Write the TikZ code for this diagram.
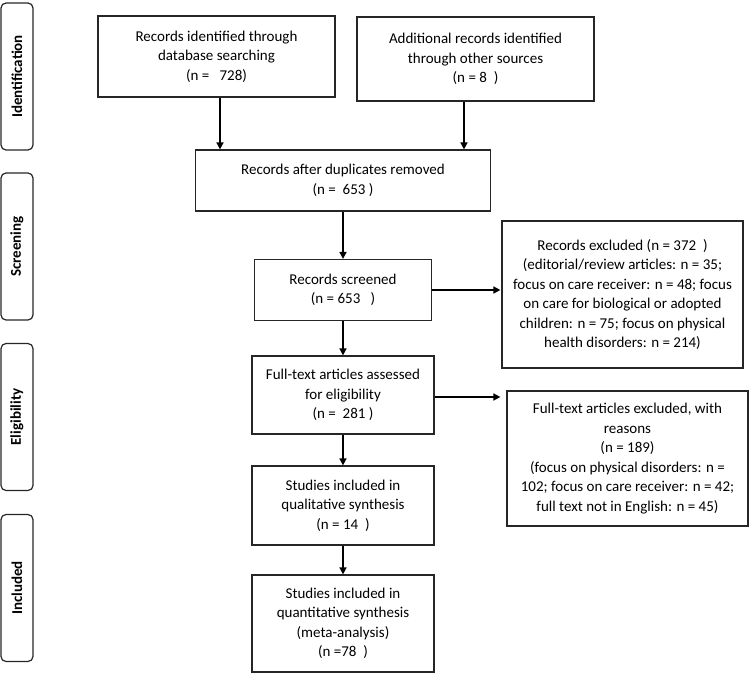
\documentclass[tikz,border=0pt]{standalone}
\usepackage{fontspec}
\setmainfont{Carlito}
\usetikzlibrary{arrows.meta}
\begin{document}
\begin{tikzpicture}[x=1pt,y=-1pt,
  box/.style={draw=black!85,line width=1.2pt,inner sep=0pt,align=center,
    font=\fontsize{15}{19.5}\selectfont},
  side/.style={draw=black!85,line width=1.2pt,rounded corners=5pt,inner sep=0pt,
    minimum width=32pt,minimum height=147pt},
  sidetext/.style={rotate=90,font=\fontsize{15}{18}\selectfont\bfseries},
  arr/.style={line width=1.6pt,-{Triangle[length=7pt,width=7pt]}}]
\useasboundingbox (0,0) rectangle (750,674);
% phase labels
\node[side] (s1) at (17,76.5) {};
\node[sidetext] (t1) at (s1) {Identification};
\node[side] (s2) at (17,246.5) {};
\node[sidetext] (t2) at (s2) {Screening};
\node[side] (s3) at (17,417) {};
\node[sidetext] (t3) at (s3) {Eligibility};
\node[side] (s4) at (17,588) {};
\node[sidetext] (t4) at (s4) {Included};
% boxes
\node[box,minimum width=237pt,minimum height=81pt] (b1) at (216.5,56.5)
  {Records identified through\\database searching\\(n =~~~728)};
\node[box,minimum width=237pt,minimum height=84pt] (b2) at (475.5,59)
  {Additional records identified\\through other sources\\(n = 8~~)};
\node[box,minimum width=295pt,minimum height=61pt] (b3) at (343,180.5)
  {Records after duplicates removed\\(n =~~653 )};
\node[box,minimum width=177pt,minimum height=61pt] (b4) at (343,290)
  {Records screened\\(n = 653~~~)};
\node[box,minimum width=182pt,minimum height=78pt] (b5) at (343,395)
  {Full-text articles assessed\\for eligibility\\(n =~~281 )};
\node[box,minimum width=182pt,minimum height=79pt] (b6) at (343,505.5)
  {Studies included in\\qualitative synthesis\\(n = 14~~)};
\node[box,minimum width=182pt,minimum height=97pt] (b7) at (343,623.5)
  {Studies included in\\quantitative synthesis\\(meta-analysis)\\(n =78~~)};
\node[box,minimum width=241pt,minimum height=147pt] (e1) at (622.5,294.5)
  {Records excluded (n = 372~~)\\(editorial/review articles: n = 35;\\focus on care receiver: n = 48; focus\\on care for biological or adopted\\children: n = 75; focus on physical\\health disorders: n = 214)};
\node[box,minimum width=241pt,minimum height=135pt] (e2) at (627.5,458.5)
  {Full-text articles excluded, with\\reasons\\(n = 189)\\(focus on physical disorders: n =\\102; focus on care receiver: n = 42;\\full text not in English: n = 45)};
% arrows
\draw[arr] ([xshift=3.5pt]b1.south) -- ([xshift=3.5pt]b1.south |- b3.north);
\draw[arr] ([xshift=-11.5pt]b2.south) -- ([xshift=-11.5pt]b2.south |- b3.north);
\draw[arr] (b3.south) -- (b3.south |- b4.north);
\draw[arr] (b4.south) -- (b4.south |- b5.north);
\draw[arr] (b5.south) -- (b5.south |- b6.north);
\draw[arr] (b6.south) -- (b6.south |- b7.north);
\draw[arr,shorten >=1pt] (b4.east) -- (b4.east -| e1.west);
\draw[arr,shorten >=6pt] ([yshift=-2pt]b5.east) -- ([yshift=-2pt]b5.east -| e2.west);
\end{tikzpicture}
\end{document}
